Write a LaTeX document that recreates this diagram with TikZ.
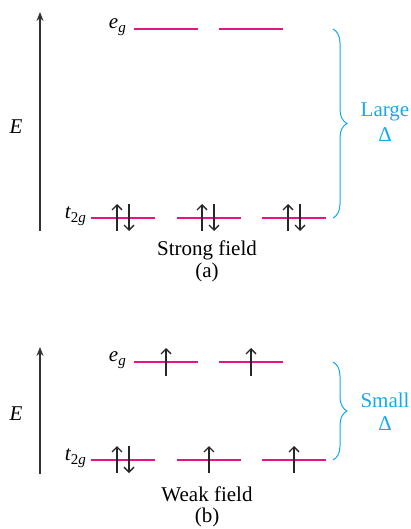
\documentclass[tikz,border=0pt]{standalone}
\usepackage{fontspec}
\setmainfont{Liberation Serif}
\usetikzlibrary{arrows.meta,decorations.pathreplacing}
\definecolor{lvl}{RGB}{228,20,128}
\definecolor{brc}{RGB}{20,170,235}
\newcommand\dnsub[1]{\raisebox{-0.45ex}{\fontsize{15}{17}\selectfont #1}}
\tikzset{
  level/.style={draw=lvl,line width=2.4pt},
  axis/.style={draw=black!80,line width=1.2pt,-{Stealth[length=9pt,width=7pt]}},
  spin/.style={draw=black!85,line width=1.3pt,-{Straight Barb[length=5pt,width=10pt]}},
  gap/.style={draw=brc,line width=1pt,decorate,decoration={brace,amplitude=14pt}},
  lab/.style={font=\fontsize{21}{23}\selectfont,inner sep=0pt},
  glab/.style={font=\fontsize{21}{23}\selectfont,text=brc,align=center,inner sep=0pt}
}
\begin{document}
\begin{tikzpicture}[x=1pt,y=-1pt]
\useasboundingbox (0,0) rectangle (411,529);
% ---------- panel (a) ----------
\coordinate (a0) at (40,231);
\coordinate (a1) at (40,12);
\draw[axis] (a0) -- (a1);
\node[lab] (aE) at (16,127) {\itshape E};
\node[lab,anchor=east] (aeg) at (126,27) {\itshape e\dnsub{g}};
\node[lab,anchor=east] (at2g) at (86,216) {\itshape t\dnsub{\upshape 2\itshape g}};
\coordinate (ae1l) at (134,29); \coordinate (ae1r) at (198,29);
\coordinate (ae2l) at (219,29); \coordinate (ae2r) at (283,29);
\draw[level] (ae1l) -- (ae1r);
\draw[level] (ae2l) -- (ae2r);
\coordinate (at1l) at (91,218); \coordinate (at1r) at (155,218);
\coordinate (at2l) at (177,218); \coordinate (at2r) at (241,218);
\coordinate (at3l) at (262,218); \coordinate (at3r) at (326,218);
\draw[level] (at1l) -- (at1r);
\draw[level] (at2l) -- (at2r);
\draw[level] (at3l) -- (at3r);
\foreach \x in {117,202,288}{
  \draw[spin] (\x,231) -- (\x,204);
  \draw[spin] (\x+12,204) -- (\x+12,231);
}
\coordinate (abt) at (333,29); \coordinate (abb) at (333,218);
\draw[gap] (abt) -- (abb);
\node[glab] (alarge) at (385,112) {Large};
\node[glab] (adelta) at (385,135) {Δ};
\node[lab] (astrong) at (207,250) {Strong field};
\node[lab] (aa) at (207,272) {(a)};
% ---------- panel (b) ----------
\coordinate (b0) at (40,474);
\coordinate (b1) at (40,347);
\draw[axis] (b0) -- (b1);
\node[lab] (bE) at (16,414) {\itshape E};
\node[lab,anchor=east] (beg) at (126,360) {\itshape e\dnsub{g}};
\node[lab,anchor=east] (bt2g) at (86,458) {\itshape t\dnsub{\upshape 2\itshape g}};
\coordinate (be1l) at (134,362); \coordinate (be1r) at (198,362);
\coordinate (be2l) at (219,362); \coordinate (be2r) at (283,362);
\draw[level] (be1l) -- (be1r);
\draw[level] (be2l) -- (be2r);
\coordinate (bt1l) at (91,460); \coordinate (bt1r) at (155,460);
\coordinate (bt2l) at (177,460); \coordinate (bt2r) at (241,460);
\coordinate (bt3l) at (262,460); \coordinate (bt3r) at (326,460);
\draw[level] (bt1l) -- (bt1r);
\draw[level] (bt2l) -- (bt2r);
\draw[level] (bt3l) -- (bt3r);
\draw[spin] (166,376) -- (166,348);
\draw[spin] (251,376) -- (251,348);
\draw[spin] (117,473) -- (117,446);
\draw[spin] (129,446) -- (129,473);
\draw[spin] (209,473) -- (209,446);
\draw[spin] (294,473) -- (294,446);
\coordinate (bbt) at (333,362); \coordinate (bbb) at (333,460);
\draw[gap] (bbt) -- (bbb);
\node[glab] (bsmall) at (385,400) {Small};
\node[glab] (bdelta) at (385,424) {Δ};
\node[lab] (bweak) at (207,494) {Weak field};
\node[lab] (bb) at (207,517) {(b)};
\end{tikzpicture}
\end{document}
